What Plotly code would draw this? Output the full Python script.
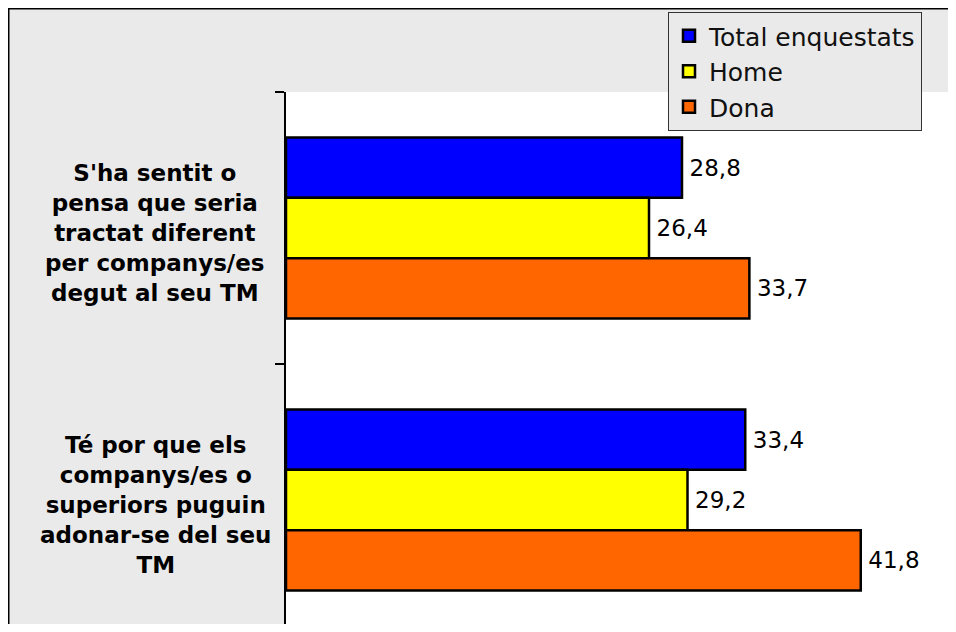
import plotly.graph_objects as go

categories = [
    "S'ha sentit o<br>pensa que seria<br>tractat diferent<br>per companys/es<br>degut al seu TM",
    "Té por que els<br>companys/es o<br>superiors puguin<br>adonar-se del seu<br>TM",
]
series_names = ["Total enquestats", "Home", "Dona"]
total_values = [28.8, 33.4]
home_values = [26.4, 29.2]
dona_values = [33.7, 41.8]
series_values = [total_values, home_values, dona_values]
series_colors = ["#0000FF", "#FFFF00", "#FF6600"]

# figure sized so that, with the page's 8px body margin, it fills the window
W, H = 940, 616
L, T, R, B = 278, 84, 0, 0
PW, PH = W - L - R, H - T - B
px_per_unit = 13.75
band_px = 272

def px_x(px):
    return (px - L) / PW

def px_y(py):
    return (H - B - py) / PH

FONT = "DejaVu Sans, Verdana, sans-serif"

fig = go.Figure()
for i, (name, vals, col) in enumerate(zip(series_names, series_values, series_colors)):
    fig.add_trace(go.Bar(
        y=list(range(len(categories))),
        x=vals,
        name=name,
        orientation="h",
        marker=dict(color=col, line=dict(color="#000000", width=2.5)),
        texttemplate="\u2009%{x:.1f}",
        textposition="outside",
        textfont=dict(family=FONT, size=23, color="#000000"),
        cliponaxis=False,
        legendgroup=f"g{i}",
        hoverinfo="skip",
    ))

units = PH / band_px
fig.update_layout(
    width=W, height=H,
    margin=dict(l=L, t=T, r=R, b=B, pad=0),
    paper_bgcolor="#EAEAEA",
    plot_bgcolor="#FFFFFF",
    separators=", ",
    barmode="group",
    bargap=0.335,
    bargroupgap=0,
    showlegend=True,
    legend=dict(
        x=px_x(660), y=px_y(4), xanchor="left", yanchor="top",
        bgcolor="#EAEAEA", bordercolor="#333333", borderwidth=1,
        font=dict(family=FONT, size=25, color="#111111"),
        traceorder="normal", tracegroupgap=2,
    ),
    xaxis=dict(range=[0, PW / px_per_unit], showgrid=False, zeroline=False,
               showline=False, showticklabels=False, ticks=""),
    yaxis=dict(
        range=[-0.5 + units, -0.5],
        tickmode="array", tickvals=[-0.5, 0.5, 1.5],
        showticklabels=False,
        ticks="outside", ticklen=9, tickwidth=1.5,
        tickcolor="#000000",
        showline=True, linecolor="#000000", linewidth=1.5,
        showgrid=False, zeroline=False,
    ),
    font=dict(family=FONT),
)

for i, cat in enumerate(categories):
    fig.add_annotation(
        x=px_x(147), xref="paper", y=i, yref="y",
        text=cat, showarrow=False, align="center",
        xanchor="center", yanchor="middle", yshift=-5,
        font=dict(family=FONT, size=23, color="#000000", weight="bold"),
    )

# outer frame lines (left and top)
fig.add_shape(type="line", xref="paper", yref="paper",
              x0=px_x(0.5), x1=px_x(0.5), y0=px_y(0), y1=px_y(H + 5),
              line=dict(color="#000000", width=2), layer="above")
fig.add_shape(type="line", xref="paper", yref="paper",
              x0=px_x(0), x1=px_x(W + 5), y0=px_y(0.5), y1=px_y(0.5),
              line=dict(color="#000000", width=2), layer="above")

fig.write_html("out.html")
